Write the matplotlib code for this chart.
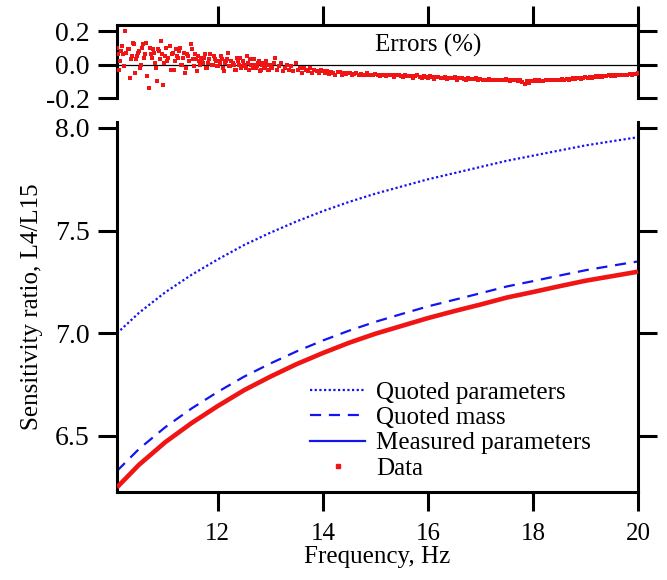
import numpy as np
import matplotlib
matplotlib.use("Agg")
import matplotlib.pyplot as plt
from matplotlib.lines import Line2D

plt.rcParams['font.family'] = ['Liberation Serif', 'DejaVu Serif']

# ---------------- data ----------------
curve_freq = [10.08, 10.5, 11.0, 11.5, 12.0, 12.5, 13.0, 13.5, 14.0, 14.5, 15.0,
              15.5, 16.0, 16.5, 17.0, 17.5, 18.0, 18.5, 19.0, 19.5, 20.0]
quoted_params = [7.00, 7.10, 7.20, 7.285, 7.36, 7.43, 7.49, 7.545, 7.595, 7.64, 7.68,
                 7.715, 7.75, 7.78, 7.81, 7.84, 7.865, 7.89, 7.915, 7.935, 7.955]
quoted_mass = [6.33, 6.437, 6.543, 6.634, 6.715, 6.789, 6.853, 6.912, 6.965, 7.013, 7.056,
               7.094, 7.131, 7.163, 7.195, 7.228, 7.254, 7.281, 7.307, 7.329, 7.35]
measured_params = [6.25, 6.36, 6.47, 6.563, 6.646, 6.723, 6.789, 6.85, 6.904, 6.954, 6.998,
                   7.036, 7.074, 7.108, 7.14, 7.174, 7.201, 7.229, 7.256, 7.278, 7.30]
data_values = measured_params

# errors (%) sampled every 0.04 Hz starting at 10.08 Hz
err_start, err_step = 10.08, 0.04
errors = [
    0.10, -0.03, 0.08, 0.06, 0.20, 0.09, -0.08, 0.05, 0.12, 0.03,
    0.07, -0.02, 0.10, 0.04, 0.13, -0.14, 0.06, 0.09, 0.01, -0.10,
    0.08, 0.14, -0.12, 0.05, 0.02, 0.11, 0.06, -0.03, 0.09, 0.04,
    0.10, 0.00, 0.07, -0.02, 0.05, 0.12, 0.03, 0.06, -0.04, 0.02,
    0.04, 0.01, 0.06, -0.02, 0.03, 0.00, 0.05, 0.02, -0.01, 0.01,
    0.03, -0.04, 0.02, 0.07, -0.01, 0.01, -0.03, 0.04, 0.00, -0.02,
    0.02, -0.01, 0.05, -0.03, 0.00, 0.03, -0.02, 0.01, -0.04, 0.00,
    -0.01, 0.02, -0.03, 0.00, -0.02, 0.04, -0.03, -0.01, 0.01, -0.04,
    -0.02, 0.00, -0.03, -0.01, -0.04, 0.01, -0.03, -0.02, -0.05, -0.02,
    -0.03, -0.04, -0.02, -0.05, -0.03, -0.04, -0.05, -0.03, -0.04, -0.05,
    -0.04, -0.055, -0.045, -0.05, -0.06, -0.045, -0.045, -0.06, -0.05, -0.055,
    -0.05, -0.05, -0.065, -0.055, -0.05, -0.06, -0.055, -0.065, -0.06, -0.05,
    -0.06, -0.065, -0.06, -0.055, -0.06, -0.07, -0.06, -0.065, -0.07, -0.06,
    -0.065, -0.06, -0.075, -0.065, -0.065, -0.07, -0.075, -0.065, -0.07, -0.07,
    -0.07, -0.08, -0.07, -0.065, -0.075, -0.08, -0.07, -0.075, -0.08, -0.07,
    -0.075, -0.085, -0.075, -0.075, -0.08, -0.08, -0.075, -0.085, -0.08, -0.08,
    -0.08, -0.075, -0.09, -0.08, -0.08, -0.085, -0.09, -0.08, -0.085, -0.085,
    -0.085, -0.08, -0.09, -0.085, -0.09, -0.09, -0.095, -0.085, -0.09, -0.09,
    -0.09, -0.095, -0.09, -0.095, -0.09, -0.085, -0.095, -0.1, -0.09, -0.095,
    -0.095, -0.10, -0.095, -0.105, -0.115, -0.10, -0.11, -0.10, -0.10, -0.095,
    -0.10, -0.095, -0.1, -0.10, -0.095, -0.09, -0.09, -0.095, -0.095, -0.09,
    -0.09, -0.095, -0.085, -0.09, -0.085, -0.09, -0.085, -0.08, -0.085, -0.08,
    -0.08, -0.085, -0.08, -0.075, -0.08, -0.075, -0.08, -0.075, -0.07, -0.075,
    -0.07, -0.075, -0.07, -0.07, -0.065, -0.07, -0.065, -0.07, -0.065, -0.06,
    -0.065, -0.06, -0.06, -0.065, -0.055, -0.06, -0.055, -0.055, -0.05,
]
# second sweep in the noisy low-frequency region, every 0.04 Hz from 10.10 Hz
err2_start = 10.10
errors2 = [
    0.06, 0.02, 0.11, -0.01, 0.07, 0.09, 0.03, 0.13, -0.05, 0.05,
    0.08, 0.00, 0.12, 0.06, -0.07, 0.10, 0.04, 0.07, -0.02, 0.09,
    0.03, 0.06, 0.01, 0.10, 0.04, -0.03, 0.07, 0.02, 0.05, 0.08,
    0.00, 0.04, -0.05, 0.06, 0.02, 0.09, -0.01, 0.03, 0.05, 0.00,
    0.02, 0.04, -0.02, 0.01, 0.06, 0.00, 0.03, -0.01, 0.02, 0.05,
    -0.02, 0.01, 0.03, -0.01, 0.02, 0.00, -0.03, 0.02, 0.04, -0.01,
    0.00, -0.02, 0.01, 0.03, -0.02, 0.00, -0.01, 0.02, -0.03, 0.01,
    -0.02, 0.00, -0.03, -0.01, 0.01,
]
err_freq = err_start + err_step * np.arange(len(errors))
err2_freq = err2_start + err_step * np.arange(len(errors2))

x_ticks = [12, 14, 16, 18, 20]
main_yticks = [6.5, 7.0, 7.5, 8.0]
err_yticks = [-0.2, 0.0, 0.2]

BLUE = '#1414f0'
RED = '#f01414'
FS = 18
YFS = 20
LW = 2.2

W, H = 667, 580
fig = plt.figure(figsize=(W / 100, H / 100), dpi=100)

L, R = 117, 638
ax = fig.add_axes([L / W, (H - 492) / H, (R - L) / W, (492 - 122) / H])
axe = fig.add_axes([L / W, (H - 98) / H, (R - L) / W, (98 - 25) / H])

# ---------- main panel ----------
ax.plot(curve_freq, quoted_params, color=BLUE, lw=1.6, linestyle=(0, (1, 1.1)),
        label='Quoted parameters')
ax.plot(curve_freq, quoted_mass, color=BLUE, lw=1.6, linestyle=(0, (5, 3.5)),
        label='Quoted mass')
ax.plot(curve_freq, measured_params, color=BLUE, lw=1.6, label='Measured parameters')
ax.plot(curve_freq, data_values, color=RED, lw=3.3, solid_capstyle='butt', zorder=5)
data_handle = Line2D([], [], color=RED, marker='s', markersize=2.2, linestyle='none',
                     label='Data')

ax.set_xlim(10.08, 20)
ax.set_ylim(6.2272, 8.029)
ax.set_xticks(x_ticks)
ax.set_yticks(main_yticks)
ax.set_yticklabels([f'{v:.1f}' for v in main_yticks])
ax.spines['top'].set_visible(False)
for s in ('left', 'right', 'bottom'):
    ax.spines[s].set_linewidth(LW)
ax.tick_params(axis='both', direction='out', length=14, width=LW)
ax.tick_params(axis='y', right=True, labelright=False, pad=5.5, labelsize=YFS)
ax.tick_params(axis='x', pad=8, labelsize=FS)
ax.set_xlabel('Frequency, Hz', fontsize=FS, labelpad=1)
ax.set_ylabel('Sensitivity ratio, L4/L15', fontsize=FS, labelpad=9)

handles = ax.get_lines()[:3] + [data_handle]
ax.legend(handles=handles, loc='upper left', bbox_to_anchor=(310 / W, (H - 381) / H),
          bbox_transform=fig.transFigure, frameon=False, fontsize=FS,
          handlelength=2.2, handletextpad=0.45, labelspacing=0.12,
          borderpad=0, borderaxespad=0)

# ---------- error panel ----------
axe.axhline(0, color='black', lw=0.9, zorder=1)
axe.plot(err_freq, errors, linestyle='none', marker='s', markersize=2.9, color=RED,
         markeredgewidth=0, zorder=3)
axe.plot(err2_freq, errors2, linestyle='none', marker='s', markersize=2.9, color=RED,
         markeredgewidth=0, zorder=3)
axe.set_xlim(10.08, 20)
axe.set_ylim(-0.2, 0.236)
axe.set_xticks(x_ticks)
axe.set_yticks(err_yticks)
axe.set_yticklabels([f'{v:.1f}' for v in err_yticks])
axe.spines['bottom'].set_visible(False)
for s in ('left', 'right', 'top'):
    axe.spines[s].set_linewidth(LW)
axe.tick_params(axis='x', top=True, bottom=False, labelbottom=False, labeltop=False,
                direction='out', length=14, width=LW)
axe.tick_params(axis='y', right=True, labelright=False, direction='out', length=14,
                width=LW, labelsize=YFS, pad=5.5)
axe.text(16.0, 0.115, 'Errors (%)', fontsize=FS, ha='center', va='center')

fig.savefig('out.png', dpi=100)
